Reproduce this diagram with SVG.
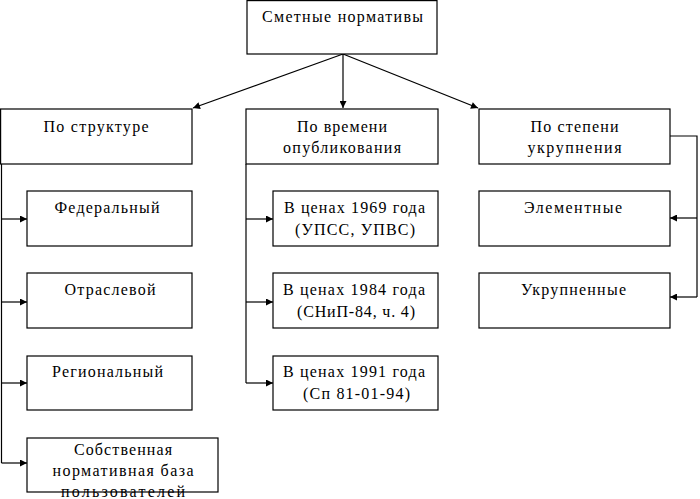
<svg xmlns="http://www.w3.org/2000/svg" width="700" height="499" viewBox="0 0 700 499">
<style>
.box{fill:#fff;stroke:#000;stroke-width:1.2}
.t{font-family:"Liberation Serif","Times New Roman",serif;font-size:16px;fill:#000;text-anchor:middle}
.c{fill:none;stroke:#000;stroke-width:1.2}
</style>
<defs>
<marker id="ah" viewBox="0 0 10 10" refX="10" refY="5" markerWidth="9" markerHeight="7" markerUnits="userSpaceOnUse" orient="auto">
<path d="M0,0 L10,5 L0,10 Z" fill="#000"/>
</marker>
</defs>
<rect width="700" height="499" fill="#fff"/>
<g id="connectors">
<line class="c" x1="343" y1="54" x2="193" y2="108" marker-end="url(#ah)"/>
<line class="c" x1="343" y1="54" x2="343" y2="108" marker-end="url(#ah)"/>
<line class="c" x1="343" y1="54" x2="478" y2="108" marker-end="url(#ah)"/>
<path class="c" d="M1.5,164 V463"/>
<line class="c" x1="1.5" y1="219" x2="27" y2="219" marker-end="url(#ah)"/>
<line class="c" x1="1.5" y1="302" x2="27" y2="302" marker-end="url(#ah)"/>
<line class="c" x1="1.5" y1="383" x2="27" y2="383" marker-end="url(#ah)"/>
<line class="c" x1="1.5" y1="463" x2="27" y2="463" marker-end="url(#ah)"/>
<path class="c" d="M246,164 V383"/>
<line class="c" x1="246" y1="219" x2="273" y2="219" marker-end="url(#ah)"/>
<line class="c" x1="246" y1="302" x2="273" y2="302" marker-end="url(#ah)"/>
<line class="c" x1="246" y1="383" x2="273" y2="383" marker-end="url(#ah)"/>
<path class="c" d="M670,136 H697 V297"/>
<line class="c" x1="697" y1="218" x2="670" y2="218" marker-end="url(#ah)"/>
<line class="c" x1="697" y1="297" x2="670" y2="297" marker-end="url(#ah)"/>
</g>
<g id="root">
<rect class="box" x="247" y="0.6" width="190" height="53.4"/>
<text class="t" x="342.5" y="22" textLength="161">Сметные нормативы</text>
</g>
<g id="struct">
<rect class="box" x="0.6" y="109" width="191.4" height="55"/>
<text class="t" x="96" y="132" textLength="105">По структуре</text>
</g>
<g id="time">
<rect class="box" x="246" y="109" width="192" height="55"/>
<text class="t" x="342" y="132" textLength="90">По времени</text>
<text class="t" x="342" y="153" textLength="118">опубликования</text>
</g>
<g id="degree">
<rect class="box" x="479" y="109" width="191" height="55"/>
<text class="t" x="574.5" y="132" textLength="88">По степени</text>
<text class="t" x="574.5" y="153" textLength="94">укрупнения</text>
</g>
<g id="federal">
<rect class="box" x="27" y="191" width="165" height="55"/>
<text class="t" x="107" y="213" textLength="105">Федеральный</text>
</g>
<g id="branch">
<rect class="box" x="27" y="273" width="165" height="55"/>
<text class="t" x="110" y="295" textLength="91">Отраслевой</text>
</g>
<g id="regional">
<rect class="box" x="27" y="356" width="165" height="54"/>
<text class="t" x="107.5" y="377" textLength="111">Региональный</text>
</g>
<g id="own">
<rect class="box" x="27" y="438" width="191" height="54"/>
<text class="t" x="123" y="455" textLength="98">Собственная</text>
<text class="t" x="123" y="476" textLength="141">нормативная база</text>
<text class="t" x="123" y="497" textLength="124">пользователей</text>
</g>
<g id="p1969">
<rect class="box" x="273" y="191" width="165" height="55"/>
<text class="t" x="354.5" y="213" textLength="141">В ценах 1969 года</text>
<text class="t" x="355" y="235" textLength="120">(УПСС, УПВС)</text>
</g>
<g id="p1984">
<rect class="box" x="273" y="273" width="165" height="55"/>
<text class="t" x="354" y="295" textLength="142">В ценах 1984 года</text>
<text class="t" x="356" y="317" textLength="118">(СНиП-84, ч. 4)</text>
</g>
<g id="p1991">
<rect class="box" x="273" y="356" width="165" height="54"/>
<text class="t" x="354" y="377" textLength="142">В ценах 1991 года</text>
<text class="t" x="356.5" y="399" textLength="107">(Сп 81-01-94)</text>
</g>
<g id="elem">
<rect class="box" x="479" y="191" width="191" height="55"/>
<text class="t" x="573" y="213" textLength="98">Элементные</text>
</g>
<g id="enl">
<rect class="box" x="479" y="273" width="191" height="55"/>
<text class="t" x="573.5" y="295" textLength="105">Укрупненные</text>
</g>
</svg>
